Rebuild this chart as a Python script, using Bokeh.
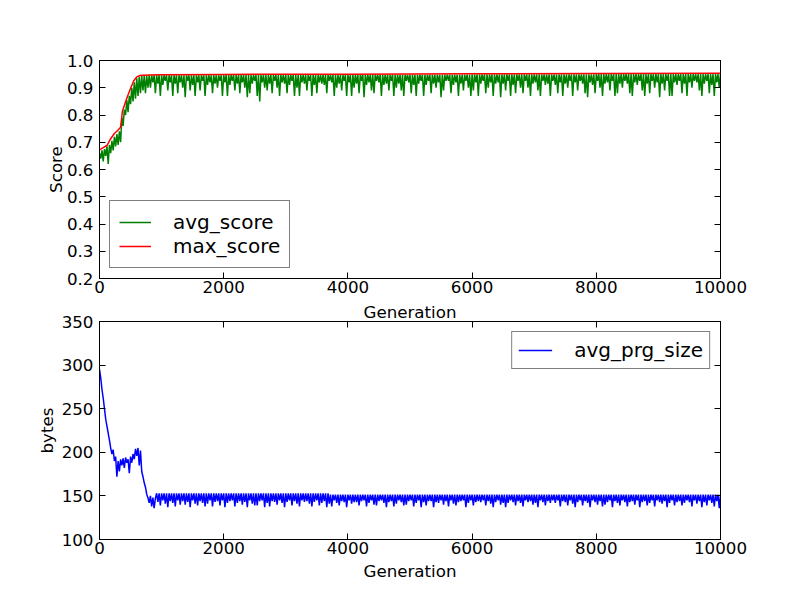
from bokeh.plotting import figure
from bokeh.models import (Range1d, LinearAxis, FixedTicker, PrintfTickFormatter,
                          Legend, CustomJSTickFormatter)
from bokeh.layouts import column
from bokeh.embed import file_html
from bokeh.resources import INLINE

# ---------------- data ----------------
x_ticks = [0, 2000, 4000, 6000, 8000, 10000]
score_ticks = [0.2, 0.3, 0.4, 0.5, 0.6, 0.7, 0.8, 0.9, 1.0]
bytes_ticks = [100, 150, 200, 250, 300, 350]

gen_max = [0, 60, 120, 180, 240, 300, 340, 370, 400, 450, 500, 550, 600, 650,
           700, 800, 1000, 2000, 4000, 6000, 8000, 10000]
max_score = [0.672, 0.680, 0.688, 0.713, 0.732, 0.745, 0.755, 0.815, 0.835, 0.868,
             0.897, 0.925, 0.940, 0.945, 0.946, 0.947, 0.948, 0.949, 0.950, 0.951,
             0.952, 0.953]

# avg_score, generations 0..780 every 20
avg_score_early = [0.66, 0.64, 0.67, 0.63, 0.675, 0.65, 0.685, 0.62, 0.69, 0.66,
                   0.705, 0.67, 0.72, 0.685, 0.73, 0.69, 0.74, 0.70, 0.79, 0.76,
                   0.82, 0.80, 0.855, 0.81, 0.87, 0.84, 0.90, 0.85, 0.92, 0.86,
                   0.935, 0.87, 0.94, 0.88, 0.943, 0.89, 0.944, 0.88, 0.945, 0.90]
# avg_score, generations 800..10000 every 20
avg_score_late = [
    0.946, 0.90, 0.946, 0.92, 0.946, 0.88, 0.946, 0.915, 0.946, 0.87, 0.946, 0.91, 0.946, 0.925, 0.946, 0.89, 0.946, 0.92, 0.946, 0.87,
    0.946, 0.915, 0.946, 0.88, 0.946, 0.92, 0.946, 0.90, 0.946, 0.865, 0.946, 0.925, 0.946, 0.89, 0.946, 0.91, 0.946, 0.87, 0.946, 0.92,
    0.946, 0.89, 0.946, 0.925, 0.946, 0.87, 0.946, 0.91, 0.946, 0.92, 0.946, 0.88, 0.946, 0.915, 0.946, 0.90, 0.946, 0.925, 0.946, 0.87,
    0.947, 0.92, 0.947, 0.87, 0.947, 0.91, 0.947, 0.925, 0.947, 0.89, 0.947, 0.915, 0.947, 0.88, 0.947, 0.92, 0.947, 0.90, 0.947, 0.865,
    0.947, 0.88, 0.947, 0.915, 0.947, 0.925, 0.947, 0.87, 0.947, 0.85, 0.947, 0.92, 0.947, 0.90, 0.947, 0.89, 0.947, 0.915, 0.947, 0.88,
    0.947, 0.925, 0.947, 0.90, 0.947, 0.87, 0.947, 0.92, 0.947, 0.915, 0.947, 0.88, 0.947, 0.91, 0.947, 0.925, 0.947, 0.87, 0.947, 0.90,
    0.947, 0.87, 0.947, 0.92, 0.947, 0.915, 0.947, 0.89, 0.947, 0.925, 0.947, 0.87, 0.947, 0.91, 0.947, 0.88, 0.947, 0.92, 0.947, 0.915,
    0.947, 0.91, 0.947, 0.88, 0.947, 0.925, 0.947, 0.92, 0.947, 0.87, 0.947, 0.90, 0.947, 0.915, 0.947, 0.89, 0.947, 0.925, 0.947, 0.87,
    0.948, 0.92, 0.948, 0.87, 0.948, 0.90, 0.948, 0.915, 0.948, 0.88, 0.948, 0.925, 0.948, 0.865, 0.948, 0.91, 0.948, 0.92, 0.948, 0.89,
    0.948, 0.88, 0.948, 0.925, 0.948, 0.92, 0.948, 0.87, 0.948, 0.91, 0.948, 0.915, 0.948, 0.89, 0.948, 0.925, 0.948, 0.87, 0.948, 0.90,
    0.948, 0.915, 0.948, 0.89, 0.948, 0.87, 0.948, 0.925, 0.948, 0.92, 0.948, 0.88, 0.948, 0.91, 0.948, 0.87, 0.948, 0.915, 0.948, 0.925,
    0.948, 0.87, 0.948, 0.91, 0.948, 0.925, 0.948, 0.88, 0.948, 0.915, 0.948, 0.90, 0.948, 0.92, 0.948, 0.865, 0.948, 0.89, 0.948, 0.925,
    0.948, 0.925, 0.948, 0.88, 0.948, 0.91, 0.948, 0.92, 0.948, 0.87, 0.948, 0.915, 0.948, 0.89, 0.948, 0.925, 0.948, 0.90, 0.948, 0.87,
    0.949, 0.89, 0.949, 0.92, 0.949, 0.87, 0.949, 0.915, 0.949, 0.925, 0.949, 0.88, 0.949, 0.90, 0.949, 0.92, 0.949, 0.87, 0.949, 0.915,
    0.949, 0.92, 0.949, 0.865, 0.949, 0.915, 0.949, 0.89, 0.949, 0.925, 0.949, 0.87, 0.949, 0.91, 0.949, 0.88, 0.949, 0.925, 0.949, 0.90,
    0.949, 0.88, 0.949, 0.925, 0.949, 0.90, 0.949, 0.87, 0.949, 0.915, 0.949, 0.92, 0.949, 0.89, 0.949, 0.87, 0.949, 0.925, 0.949, 0.91,
    0.949, 0.915, 0.949, 0.87, 0.949, 0.925, 0.949, 0.91, 0.949, 0.88, 0.949, 0.92, 0.949, 0.87, 0.949, 0.915, 0.949, 0.90, 0.949, 0.925,
    0.949, 0.87, 0.949, 0.92, 0.949, 0.89, 0.949, 0.925, 0.949, 0.915, 0.949, 0.88, 0.949, 0.865, 0.949, 0.92, 0.949, 0.91, 0.949, 0.88,
    0.950, 0.925, 0.950, 0.90, 0.950, 0.87, 0.950, 0.915, 0.950, 0.92, 0.950, 0.89, 0.950, 0.925, 0.950, 0.87, 0.950, 0.88, 0.950, 0.915,
    0.950, 0.90, 0.950, 0.925, 0.950, 0.915, 0.950, 0.88, 0.950, 0.87, 0.950, 0.92, 0.950, 0.91, 0.950, 0.925, 0.950, 0.89, 0.950, 0.87,
    0.950, 0.915, 0.950, 0.88, 0.950, 0.925, 0.950, 0.90, 0.950, 0.92, 0.950, 0.865, 0.950, 0.915, 0.950, 0.89, 0.950, 0.925, 0.950, 0.87,
    0.950, 0.87, 0.950, 0.92, 0.950, 0.91, 0.950, 0.925, 0.950, 0.88, 0.950, 0.915, 0.950, 0.87, 0.950, 0.92, 0.950, 0.90, 0.950, 0.925,
    0.950, 0.92, 0.950, 0.89, 0.950, 0.87, 0.950, 0.915, 0.950, 0.925, 0.950, 0.88, 0.950, 0.91, 0.950, 0.87, 0.950, 0.92, 0.950, 0.90,
    0.951]

# avg_prg_size, generations 0..900 every 20
prg_size_early = [295, 285, 272, 262, 250, 238, 230, 222, 214, 205,
                  198, 203, 190, 195, 172, 190, 178, 192, 185, 193,
                  182, 194, 188, 192, 176, 195, 188, 198, 192, 204,
                  196, 205, 185, 202, 178, 172, 165, 160, 152, 148,
                  142, 150, 138, 148, 136, 147]
# avg_prg_size, generations 920..10000 every 20
prg_size_late = [
    153, 143, 153, 139, 153, 145, 153, 141, 153, 137, 153, 144, 153, 142, 153, 138, 153, 145, 153, 140,
    153, 144, 153, 140, 153, 143, 153, 137, 153, 145, 153, 141, 153, 139, 153, 144, 153, 142, 153, 138,
    153, 141, 153, 145, 153, 138, 153, 143, 153, 144, 153, 139, 153, 145, 153, 137, 153, 142, 153, 144,
    153, 145, 153, 138, 153, 142, 153, 144, 153, 140, 153, 143, 153, 137, 153, 145, 153, 141, 153, 139,
    153, 139, 153, 144, 153, 145, 153, 137, 153, 142, 153, 138, 153, 144, 153, 143, 153, 140, 153, 145,
    153, 142, 153, 137, 153, 143, 153, 145, 153, 139, 153, 144, 153, 141, 153, 138, 153, 145, 153, 143,
    153, 144, 153, 141, 153, 138, 153, 143, 153, 145, 153, 139, 153, 142, 153, 144, 153, 137, 153, 141,
    151.5, 138, 151.5, 145, 151.5, 142, 151.5, 139, 151.5, 144, 151.5, 143, 151.5, 137, 151.5, 145, 151.5, 141, 151.5, 143,
    151.5, 143, 151.5, 139, 151.5, 144, 151.5, 145, 151.5, 138, 151.5, 142, 151.5, 145, 151.5, 140, 151.5, 139, 151.5, 144,
    151.5, 145, 151.5, 142, 151.5, 137, 151.5, 143, 151.5, 144, 151.5, 138, 151.5, 141, 151.5, 145, 151.5, 143, 151.5, 139,
    151.5, 140, 151.5, 144, 151.5, 145, 151.5, 138, 151.5, 142, 151.5, 145, 151.5, 137, 151.5, 143, 151.5, 139, 151.5, 144,
    151.5, 144, 151.5, 137, 151.5, 143, 151.5, 142, 151.5, 145, 151.5, 140, 151.5, 144, 151.5, 138, 151.5, 145, 151.5, 141,
    151.5, 139, 151.5, 143, 151.5, 144, 151.5, 145, 151.5, 137, 151.5, 142, 151.5, 145, 151.5, 139, 151.5, 143, 151.5, 144,
    151.5, 143, 151.5, 145, 151.5, 139, 151.5, 144, 151.5, 141, 151.5, 137, 151.5, 143, 151.5, 145, 151.5, 140, 151.5, 142,
    151.5, 137, 151.5, 142, 151.5, 145, 151.5, 143, 151.5, 139, 151.5, 144, 151.5, 142, 151.5, 138, 151.5, 145, 151.5, 143,
    151.5, 144, 151.5, 140, 151.5, 142, 151.5, 137, 151.5, 145, 151.5, 143, 151.5, 139, 151.5, 144, 151.5, 142, 151.5, 145,
    151.5, 142, 151.5, 145, 151.5, 138, 151.5, 144, 151.5, 143, 151.5, 139, 151.5, 145, 151.5, 141, 151.5, 137, 151.5, 143,
    151.5, 145, 151.5, 139, 151.5, 144, 151.5, 142, 151.5, 137, 151.5, 145, 151.5, 143, 151.5, 140, 151.5, 144, 151.5, 138,
    151.5, 140, 151.5, 143, 151.5, 145, 151.5, 137, 151.5, 144, 151.5, 142, 151.5, 139, 151.5, 145, 151.5, 143, 151.5, 138,
    151.5, 143, 151.5, 144, 151.5, 140, 151.5, 145, 151.5, 137, 151.5, 143, 151.5, 144, 151.5, 139, 151.5, 142, 151.5, 145,
    151.5, 138, 151.5, 145, 151.5, 143, 151.5, 141, 151.5, 144, 151.5, 137, 151.5, 142, 151.5, 145, 151.5, 139, 151.5, 143,
    151.5, 144, 151.5, 139, 151.5, 142, 151.5, 145, 151.5, 143, 151.5, 138, 151.5, 145, 151.5, 141, 151.5, 144, 151.5, 137,
    151.5, 143, 151.5, 139, 151.5, 145, 151.5, 142, 151.5, 138, 151.5, 144, 151.5, 136, 151.5]

gen_avg = [20 * i for i in range(len(avg_score_early))] + \
          [800 + 20 * i for i in range(len(avg_score_late))]
avg_score = avg_score_early + avg_score_late
gen_prg = [20 * i for i in range(len(prg_size_early))] + \
          [920 + 20 * i for i in range(len(prg_size_late))]
avg_prg_size = prg_size_early + prg_size_late

FONT = "DejaVu Sans"
TICK_FS = "16.7px"


def style_axis(ax, ticks, fmt=None, labels=True):
    ax.ticker = FixedTicker(ticks=ticks)
    ax.major_tick_in = 6
    ax.major_tick_out = 0
    ax.minor_tick_line_color = None
    ax.axis_line_color = "black"
    ax.major_tick_line_color = "black"
    ax.major_label_text_font = FONT
    ax.major_label_text_color = "black"
    ax.axis_label_text_font = FONT
    ax.axis_label_text_font_style = "normal"
    ax.axis_label_text_font_size = TICK_FS
    ax.axis_label_text_color = "black"
    if labels:
        ax.major_label_standoff = 5
        ax.major_label_text_font_size = TICK_FS
        if fmt is not None:
            ax.formatter = PrintfTickFormatter(format=fmt)
    else:
        ax.major_label_standoff = 0
        ax.major_label_text_font_size = "0px"
        ax.formatter = CustomJSTickFormatter(code="return ''")


def make_fig(y0, y1, yticks, yfmt, ylabel, ylabel_standoff,
             top_border, bottom_border, xlabel_below, xlabel_above):
    p = figure(frame_width=621, frame_height=218,
               min_border_left=99, min_border_right=80,
               min_border_top=top_border, min_border_bottom=bottom_border,
               x_range=Range1d(0, 10000), y_range=Range1d(y0, y1),
               output_backend="svg", toolbar_location=None,
               background_fill_color="white", border_fill_color="white")
    p.grid.visible = False
    p.outline_line_color = "black"
    p.outline_line_width = 1
    bx = p.below[0]
    ly = p.left[0]
    style_axis(bx, x_ticks, "%d")
    style_axis(ly, yticks, yfmt)
    bx.major_label_standoff = 2
    if xlabel_below:
        bx.axis_label = xlabel_below
        bx.axis_label_standoff = 4
    ly.major_label_standoff = 6
    ly.axis_label = ylabel
    ly.axis_label_standoff = ylabel_standoff
    top = LinearAxis()
    style_axis(top, x_ticks, labels=False)
    if xlabel_above:
        top.axis_label = xlabel_above
        top.axis_label_standoff = 0
    p.add_layout(top, "above")
    right = LinearAxis()
    style_axis(right, yticks, labels=False)
    p.add_layout(right, "right")
    return p


def style_legend(leg, loc, pad, glyph_w):
    leg.location = loc
    leg.margin = 10
    leg.border_line_color = "black"
    leg.border_line_width = 1
    leg.background_fill_color = "white"
    leg.background_fill_alpha = 1.0
    leg.label_text_font = FONT
    leg.label_text_font_size = "20px"
    leg.label_text_color = "black"
    leg.glyph_width = glyph_w
    leg.glyph_height = 20
    leg.label_height = 20
    leg.label_standoff = 22
    leg.padding = pad
    leg.spacing = 0


# ---------------- top: scores ----------------
# (the top panel's "Generation" label sits in the gap between the panels and
#  is carried by the lower panel's top axis, so no canvas clips it)
p1 = make_fig(0.2, 1.0, score_ticks, "%.1f", "Score", -2, 60, 20, None, None)
r_avg = p1.line(gen_avg, avg_score, line_color="#008000", line_width=1.5)
r_max = p1.line(gen_max, max_score, line_color="#ff0000", line_width=1.5)
leg1 = Legend(items=[("avg_score", [r_avg]), ("max_score", [r_max])])
style_legend(leg1, "bottom_left", 9, 32)
p1.add_layout(leg1, "center")

# ---------------- bottom: program size ----------------
p2 = make_fig(100, 350, bytes_ticks, "%d", "bytes", 2, 20, 52,
              "Generation", "Generation")
r_prg = p2.line(gen_prg, avg_prg_size, line_color="#0000ff", line_width=1.5)
leg2 = Legend(items=[("avg_prg_size", [r_prg])])
style_legend(leg2, "top_right", 6, 34)
p2.add_layout(leg2, "center")

layout = column(p1, p2)
open("out.html", "w").write(file_html(layout, INLINE))
